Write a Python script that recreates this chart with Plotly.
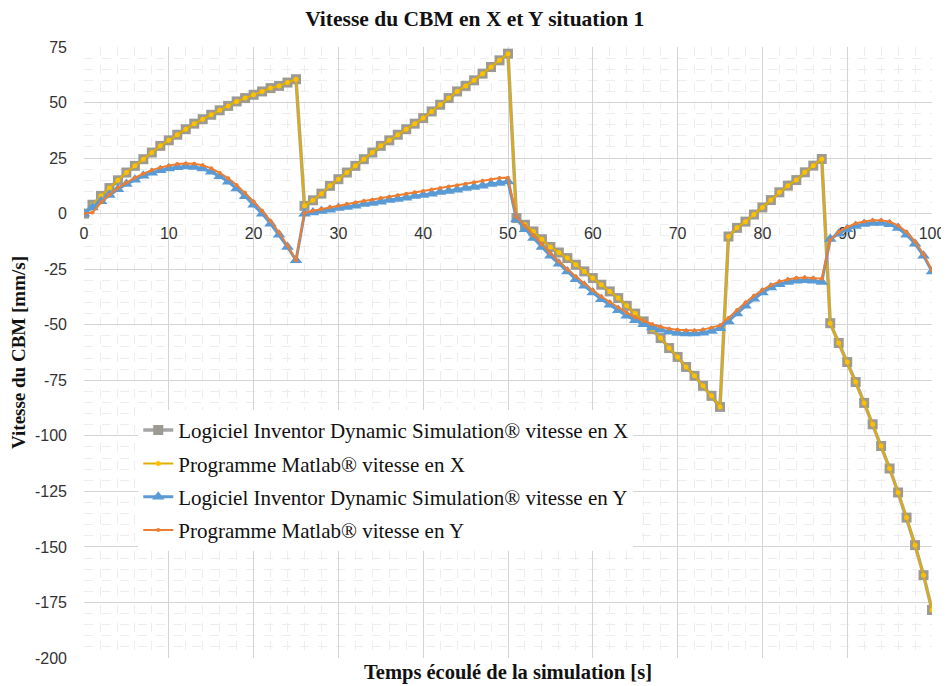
import plotly.graph_objects as go

# ---------------- data ----------------
temps = list(range(0, 101))

inventor_vx = [
    0, 4, 8, 11.5, 15, 18.5, 21.5, 24.5, 27.5, 30.5,
    33, 35.5, 38, 40.5, 42.5, 44.5, 46.5, 48.5, 50.5, 52,
    53.5, 55, 56.5, 57.5, 59, 60.5,
    3.5, 6, 9, 12.5, 15.5, 18.5, 21.5, 24.5, 27.5, 30.5,
    33, 35.5, 38, 40.5, 43, 46, 49, 52, 55, 57.5,
    60, 63, 66, 69, 72,
    -2, -5, -8, -11.5, -15, -17.5, -20, -23, -26, -29,
    -32, -35, -38, -41.5, -45, -48.5, -52, -56, -60.5, -64.5,
    -69, -73, -77.5, -82, -87,
    -10.3, -6.4, -3.6, -0.4, 2.8, 6.1, 9.6, 12.6, 15.1, 18.6, 21.6, 24.6,
    -49.3, -58.2, -66.8, -75.8, -85.2, -94.8, -104.6, -114.7, -125.5, -136.8,
    -149.2, -162.7, -178.4,
]

matlab_vx = [
    0, 4, 8, 11.5, 15, 18.5, 21.5, 24.5, 27.5, 30.5,
    33, 35.5, 38, 40.5, 42.5, 44.5, 46.5, 48.5, 50.5, 52,
    53.5, 55, 56.5, 57.5, 59, 60.5,
    3.5, 6, 9, 12.5, 15.5, 18.5, 21.5, 24.5, 27.5, 30.5,
    33, 35.5, 38, 40.5, 43, 46, 49, 52, 55, 57.5,
    60, 63, 66, 69, 72,
    -2, -5, -8, -11.5, -15, -17.5, -20, -23, -26, -29,
    -32, -35, -38, -41.5, -45, -48.5, -52, -56, -60.5, -64.5,
    -69, -73, -77.5, -82, -87,
    -10.3, -6.4, -3.6, -0.4, 2.8, 6.1, 9.6, 12.6, 15.1, 18.6, 21.6, 24.6,
    -49.3, -58.2, -66.8, -75.8, -85.2, -94.8, -104.6, -114.7, -125.5, -136.8,
    -149.2, -162.7, -178.4,
]

inventor_vy = [
    0, 2.8, 5.6, 8.4, 11, 13.3, 15.3, 17, 18.4, 19.5,
    20.3, 20.9, 21.2, 21, 20.3, 18.8, 16.8, 14.3, 11.3, 7.8,
    4, 0, -4.5, -9.5, -15, -21,
    0, 0.5, 1.2, 1.8, 2.5, 3, 3.6, 4.3, 4.8, 5.4,
    6.1, 6.6, 7.2, 7.9, 8.4, 9, 9.7, 10.2, 10.8, 11.5,
    12, 12.6, 13.3, 13.8, 14.5,
    -2.5, -7, -11, -15, -19, -22.5, -26, -29.5, -32.5, -35.5,
    -38.5, -41, -43.5, -46, -48, -49.8, -51.2, -52.3, -53.2, -53.7,
    -54, -54, -53.6, -52.8, -51.6,
    -48.5, -45, -41.5, -38.3, -35.5, -33.3, -31.8, -30.8, -30.2, -30, -30.2, -30.8,
    -11.4, -9, -7, -5.6, -4.7, -4.2, -4.2, -4.8, -6.5, -9.5,
    -13.5, -19, -26,
]

matlab_vy = [
    0, 0.5, 5, 8.5, 11.5, 14, 16.2, 18, 19.6, 20.8,
    21.7, 22.3, 22.6, 22.5, 21.8, 20.4, 18.4, 15.9, 12.9, 9.4,
    5.5, 1.3, -3.3, -8.5, -14.3, -21,
    0.3, 1.3, 2.1, 2.9, 3.6, 4.3, 5, 5.7, 6.3, 7,
    7.6, 8.3, 8.9, 9.6, 10.2, 10.9, 11.5, 12.2, 12.8, 13.5,
    14.1, 14.8, 15.4, 16, 16.2,
    -1.5, -5.5, -9.8, -13.8, -17.8, -21.5, -25, -28.3, -31.5, -34.5,
    -37.3, -39.8, -42.3, -44.6, -46.6, -48.3, -49.8, -50.9, -51.8, -52.3,
    -52.6, -52.6, -52.2, -51.4, -50.3,
    -47, -43.5, -40, -37, -34.3, -32.2, -30.6, -29.6, -29, -28.8, -29, -29.3,
    -12, -8.2, -6, -4.4, -3.5, -3, -3, -3.6, -5.3, -8.3,
    -12.5, -18.3, -25.5,
]

x_tick_vals = [0, 10, 20, 30, 40, 50, 60, 70, 80, 90, 100]
x_tick_text = ["0", "10", "20", "30", "40", "50", "60", "70", "80", "90", "100"]
y_tick_vals = [75, 50, 25, 0, -25, -50, -75, -100, -125, -150, -175, -200]
y_tick_text = ["75", "50", "25", "0", "-25", "-50", "-75", "-100", "-125", "-150", "-175", "-200"]

series_names = [
    "Logiciel Inventor Dynamic Simulation® vitesse en X",
    "Programme Matlab® vitesse en X",
    "Logiciel Inventor Dynamic Simulation® vitesse en Y",
    "Programme Matlab® vitesse en Y",
]

# ---------------- styling ----------------
SERIF = "Liberation Serif, Times New Roman, serif"
SANS = "Liberation Sans, Arial, sans-serif"
TICK_FONT = dict(family=SANS, size=16, color="#333333")
X_LABEL_Y = -9.5  # x tick labels sit just under the y=0 line (Excel style)

fig = go.Figure()

# x tick labels drawn at the y = 0 crossing, underneath the series
fig.add_trace(go.Scatter(
    x=x_tick_vals, y=[X_LABEL_Y] * len(x_tick_vals), text=x_tick_text,
    mode="text", textposition="middle center", textfont=TICK_FONT,
    showlegend=False, hoverinfo="skip", cliponaxis=False,
))

fig.add_trace(go.Scatter(
    x=temps, y=inventor_vx, name=series_names[0], legendgroup="a",
    mode="lines+markers",
    line=dict(color="#A5A5A5", width=3.5),
    marker=dict(symbol="square", size=10, color="#9C9A92"),
))
fig.add_trace(go.Scatter(
    x=temps, y=matlab_vx, name=series_names[1], legendgroup="b",
    mode="lines+markers",
    line=dict(color="#E0AE00", width=2),
    marker=dict(symbol="circle", size=5, color="#FFC000"),
))
fig.add_trace(go.Scatter(
    x=temps, y=inventor_vy, name=series_names[2], legendgroup="c",
    mode="lines+markers",
    line=dict(color="#5B9BD5", width=3),
    marker=dict(symbol="triangle-up", size=11, color="#5B9BD5"),
))
fig.add_trace(go.Scatter(
    x=temps, y=matlab_vy, name=series_names[3], legendgroup="d",
    mode="lines+markers",
    line=dict(color="#ED7D31", width=2),
    marker=dict(symbol="circle", size=4, color="#ED7D31"),
))

# page has an 8 px body margin, so the figure is 941 x 678
fig.update_layout(
    width=941, height=678,
    margin=dict(l=76, r=17, t=39, b=28),
    paper_bgcolor="white", plot_bgcolor="white",
    title=dict(
        text="<b>Vitesse du CBM en X et Y situation 1</b>",
        font=dict(family=SERIF, size=21.5, color="#111111"),
        x=0.496, xanchor="center", y=0.984, yanchor="middle",
    ),
    xaxis=dict(
        range=[0, 100], tickvals=x_tick_vals, showticklabels=False,
        showgrid=True, gridcolor="#D4D4D4", gridwidth=1,
        minor=dict(dtick=2, showgrid=True, gridcolor="#EDEDED", griddash="dash"),
        zeroline=False, showline=False, ticks="", automargin=False,
        title=dict(text="<b>Temps écoulé de la simulation [s]</b>",
                   font=dict(family=SERIF, size=20.5, color="#111111"), standoff=6),
    ),
    yaxis=dict(
        range=[-200, 75], tickvals=y_tick_vals, ticktext=y_tick_text,
        tickfont=TICK_FONT, ticklabelstandoff=16, automargin=False,
        showgrid=True, gridcolor="#D4D4D4", gridwidth=1,
        minor=dict(dtick=5, showgrid=True, gridcolor="#EDEDED", griddash="dash"),
        zeroline=False, showline=False, ticks="",
        title=dict(text="<b>Vitesse du CBM [mm/s]</b>",
                   font=dict(family=SERIF, size=19, color="#111111"), standoff=4),
    ),
    legend=dict(
        x=0.064, y=0.406, xanchor="left", yanchor="top",
        bgcolor="white", borderwidth=0,
        font=dict(family=SERIF, size=21, color="#111111"),
        tracegroupgap=3, itemwidth=30,
    ),
    showlegend=True,
)

fig.write_html("out.html")
